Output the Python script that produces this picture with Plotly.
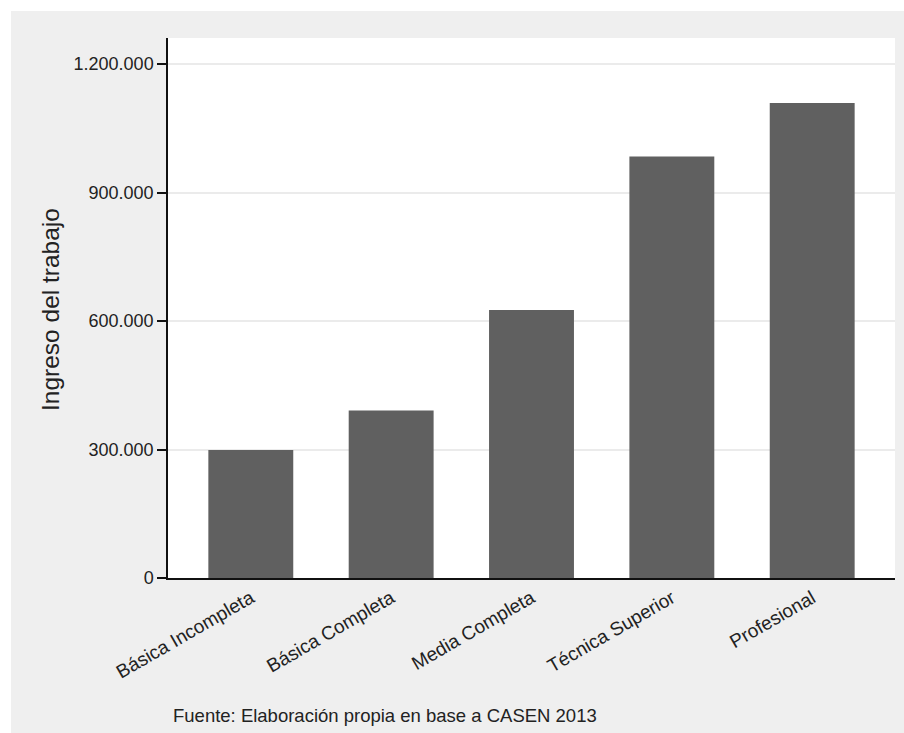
import plotly.graph_objects as go

categories = ["Básica Incompleta", "Básica Completa", "Media Completa", "Técnica Superior", "Profesional"]
ingreso = [299000, 391000, 626000, 984000, 1109000]
tick_vals = [0, 300000, 600000, 900000, 1200000]
tick_text = ["0", "300.000", "600.000", "900.000", "1.200.000"]
y_title = "Ingreso del trabajo"
caption = "Fuente: Elaboración propia en base a CASEN 2013"

FONT = "Liberation Sans, Arial, sans-serif"
W, H = 904, 733
L, R, T, B = 168, 904 - 895, 38, 733 - 578
pw, ph = W - L - R, H - T - B

def px_x(x):
    return (x - L) / pw

def px_y(y):
    return (H - B - y) / ph

fig = go.Figure(go.Bar(
    x=list(range(len(categories))),
    y=ingreso,
    marker=dict(color="#606060", line=dict(width=0)),
    width=0.605,
))

fig.update_layout(
    width=W, height=H,
    margin=dict(l=L, r=R, t=T, b=B, autoexpand=False),
    paper_bgcolor="#efefef",
    plot_bgcolor="#ffffff",
    showlegend=False,
    font=dict(family=FONT, color="#222222"),
    xaxis=dict(
        range=[-0.59, 4.59],
        tickvals=list(range(len(categories))),
        ticktext=categories,
        tickangle=-30,
        tickfont=dict(size=19, family=FONT, color="#222222"),
        showgrid=False,
        showline=True, linecolor="#111111", linewidth=1.5,
        ticks="", zeroline=False,
    ),
    yaxis=dict(
        range=[0, 1261000],
        tickvals=tick_vals,
        ticktext=tick_text,
        tickfont=dict(size=18, family=FONT, color="#222222"),
        showgrid=True, gridcolor="#ebebeb", gridwidth=1.5,
        showline=True, linecolor="#111111", linewidth=1.5,
        ticks="outside", ticklen=9, tickwidth=1.5, tickcolor="#111111",
        zeroline=False,
    ),
    shapes=[
        dict(type="rect", xref="paper", yref="paper",
             x0=px_x(-2), x1=px_x(910), y0=px_y(11), y1=px_y(-2),
             fillcolor="#ffffff", line=dict(width=0), layer="above"),
        dict(type="rect", xref="paper", yref="paper",
             x0=px_x(-2), x1=px_x(11), y0=px_y(740), y1=px_y(-2),
             fillcolor="#ffffff", line=dict(width=0), layer="above"),
    ],
    annotations=[
        dict(text=y_title, textangle=-90, xref="paper", yref="paper",
             x=px_x(50), y=px_y(310), xanchor="center", yanchor="middle",
             showarrow=False, font=dict(size=24.5, family=FONT, color="#222222")),
        dict(text=caption, xref="paper", yref="paper",
             x=px_x(171), y=px_y(715), xanchor="left", yanchor="middle",
             showarrow=False, font=dict(size=18.5, family=FONT, color="#222222")),
    ],
)

fig.write_html(
    "out.html",
    config={"displayModeBar": False},
    post_script=(
        "document.body.style.margin='0';"
        "document.body.style.overflow='hidden';"
        "document.documentElement.style.overflow='hidden';"
    ),
)
